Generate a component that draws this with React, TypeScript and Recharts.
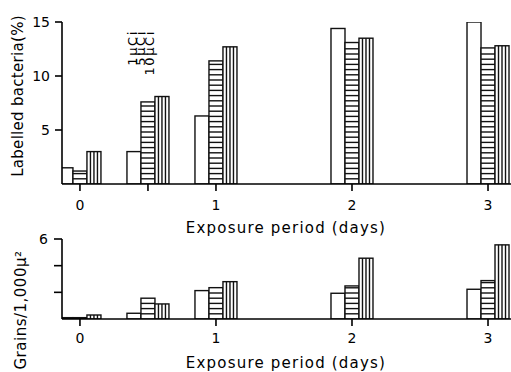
import React from 'react';
import { BarChart, Bar, XAxis, YAxis } from 'recharts';

// Exposure period (days)
const days = [0, 0.5, 1, 2, 3];
// Labelled bacteria (%)
const labelled1uCi = [1.5, 3.0, 6.3, 14.4, 15.0];
const labelled5uCi = [1.2, 7.6, 11.4, 13.1, 12.6];
const labelled10uCi = [3.0, 8.1, 12.7, 13.5, 12.8];
// Grains / 1,000 µ²
const grains1uCi = [0.1, 0.43, 2.13, 1.93, 2.23];
const grains5uCi = [0.1, 1.56, 2.35, 2.48, 2.88];
const grains10uCi = [0.3, 1.13, 2.8, 4.56, 5.56];

const xTicksTop = [0, 0.5, 1, 2, 3];
const xTicksBottom = [0, 1, 2, 3];
const yTicksTop = [5, 10, 15];
const yTicksBottom = [2, 4, 6];
const seriesLabels = ['1µCi', '5µCi', '10µCi'];

const topData = days.map((d, i) => ({ day: d, a: labelled1uCi[i], b: labelled5uCi[i], c: labelled10uCi[i] }));
const bottomData = days.map((d, i) => ({ day: d, a: grains1uCi[i], b: grains5uCi[i], c: grains10uCi[i] }));

const FONT = 'DejaVu Sans';
const INK = '#111';
const SW = 1.4;

function PlainBar(p: any) {
  const { x, y, width, height } = p;
  if (height == null || width == null) return null;
  return <rect x={x} y={y} width={width} height={Math.max(height, 0.5)} fill="#fff" stroke={INK} strokeWidth={SW} />;
}

function HStripeBar(p: any) {
  const { x, y, width, height } = p;
  if (height == null || width == null) return null;
  const lines: React.ReactNode[] = [];
  const bottom = y + height;
  let k = 0;
  for (let yy = bottom - 5.2; yy > y + 1.5; yy -= 5.2) {
    lines.push(<line key={k++} x1={x} x2={x + width} y1={yy} y2={yy} stroke={INK} strokeWidth={SW} />);
  }
  return (
    <g>
      <rect x={x} y={y} width={width} height={Math.max(height, 0.5)} fill="#fff" stroke={INK} strokeWidth={SW} />
      {lines}
    </g>
  );
}

function VStripeBar(p: any) {
  const { x, y, width, height } = p;
  if (height == null || width == null) return null;
  const lines: React.ReactNode[] = [];
  for (let k = 1; k < 4; k++) {
    const xx = x + (width * k) / 4;
    lines.push(<line key={k} x1={xx} x2={xx} y1={y} y2={y + height} stroke={INK} strokeWidth={SW} />);
  }
  return (
    <g>
      <rect x={x} y={y} width={width} height={Math.max(height, 0.5)} fill="#fff" stroke={INK} strokeWidth={SW} />
      {lines}
    </g>
  );
}

const tickStyle = { fill: '#000', fontSize: 14, fontFamily: FONT };
const XDOMAIN: [number, number] = [-0.132, 3.169];

export default function App() {
  return (
    <div style={{ position: 'absolute', left: 0, top: 0, width: 511, height: 372, background: '#fff', overflow: 'hidden' }}>
      <div style={{ position: 'absolute', left: 0, top: 0 }}>
        <BarChart width={511} height={215} data={topData} margin={{ top: 22, right: 0, bottom: 0, left: 0 }} barGap={0} barCategoryGap={0}>
          <XAxis
            dataKey="day"
            type="number"
            domain={XDOMAIN}
            allowDataOverflow
            ticks={xTicksTop}
            interval={0}
            height={31}
            tickSize={7}
            tickMargin={9}
            stroke="#000"
            strokeWidth={1.6}
            tick={tickStyle}
            tickFormatter={(v: number) => (v === 0.5 ? '' : String(v))}
          />
          <YAxis
            type="number"
            domain={[0, 15]}
            allowDataOverflow
            ticks={yTicksTop}
            interval={0}
            width={62}
            tickSize={7}
            tickMargin={5}
            stroke="#000"
            strokeWidth={1.6}
            tick={tickStyle}
          />
          <Bar dataKey="a" barSize={14} isAnimationActive={false} shape={(p: any) => <PlainBar {...p} />} />
          <Bar dataKey="b" barSize={14} isAnimationActive={false} shape={(p: any) => <HStripeBar {...p} />} />
          <Bar dataKey="c" barSize={14} isAnimationActive={false} shape={(p: any) => <VStripeBar {...p} />} />
        </BarChart>
      </div>
      <div style={{ position: 'absolute', left: 0, top: 215 }}>
        <BarChart width={511} height={135} data={bottomData} margin={{ top: 24, right: 0, bottom: 0, left: 0 }} barGap={0} barCategoryGap={0}>
          <XAxis
            dataKey="day"
            type="number"
            domain={XDOMAIN}
            allowDataOverflow
            ticks={xTicksBottom}
            interval={0}
            height={31}
            tickSize={7}
            tickMargin={7}
            stroke="#000"
            strokeWidth={1.6}
            tick={tickStyle}
          />
          <YAxis
            type="number"
            domain={[0, 6]}
            allowDataOverflow
            ticks={yTicksBottom}
            interval={0}
            width={62}
            tickSize={8}
            tickMargin={6}
            stroke="#000"
            strokeWidth={1.6}
            tick={tickStyle}
            tickFormatter={(v: number) => (v === 6 ? '6' : '')}
          />
          <Bar dataKey="a" barSize={14} isAnimationActive={false} shape={(p: any) => <PlainBar {...p} />} />
          <Bar dataKey="b" barSize={14} isAnimationActive={false} shape={(p: any) => <HStripeBar {...p} />} />
          <Bar dataKey="c" barSize={14} isAnimationActive={false} shape={(p: any) => <VStripeBar {...p} />} />
        </BarChart>
      </div>
      <svg width={511} height={372} style={{ position: 'absolute', left: 0, top: 0, pointerEvents: 'none' }}>
        <g fontFamily={FONT} fill="#000">
          <text x={18} y={96} transform="rotate(-90 18 96)" textAnchor="middle" dominantBaseline="central" fontSize={15} letterSpacing={0.3}>
            Labelled bacteria(%)
          </text>
          <text x={21} y={310} transform="rotate(-90 21 310)" textAnchor="middle" dominantBaseline="central" fontSize={15} letterSpacing={0.5}>
            Grains/1,000µ²
          </text>
          <text x={286} y={233} textAnchor="middle" fontSize={15} letterSpacing={1.2}>
            Exposure period (days)
          </text>
          <text x={286} y={368} textAnchor="middle" fontSize={15} letterSpacing={1.2}>
            Exposure period (days)
          </text>
          {seriesLabels.map((s, i) => {
            const x = 132 + i * 8.5;
            return (
              <text key={s} x={x} y={30} transform={`rotate(-90 ${x} 30)`} textAnchor="end" dominantBaseline="central" fontSize={13} letterSpacing={1.6}>
                {s}
              </text>
            );
          })}
        </g>
      </svg>
    </div>
  );
}
